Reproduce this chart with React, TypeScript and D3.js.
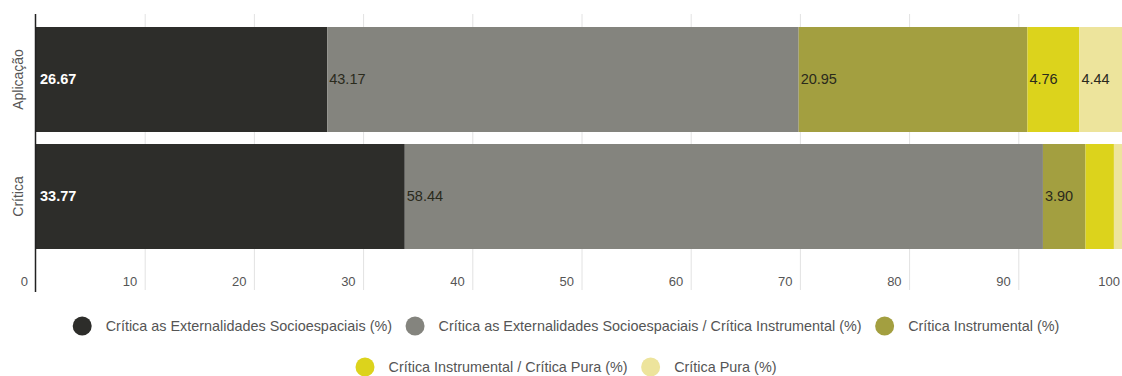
import React, { useEffect, useRef } from "react";
import * as d3 from "d3";

const categories = ["Aplicação", "Crítica"];
const seriesNames = [
  "Crítica as Externalidades Socioespaciais (%)",
  "Crítica as Externalidades Socioespaciais / Crítica Instrumental (%)",
  "Crítica Instrumental (%)",
  "Crítica Instrumental / Crítica Pura (%)",
  "Crítica Pura (%)",
];
const aplicacaoValues = [26.67, 43.17, 20.95, 4.76, 4.44];
const criticaValues = [33.77, 58.44, 3.9, 2.6, 1.29];
const xTicks = [0, 10, 20, 30, 40, 50, 60, 70, 80, 90, 100];
const colors = ["#2d2d2a", "#84847e", "#a39f40", "#dcd31c", "#ede49c"];
const legendRows = [[0, 1, 2], [3, 4]];

export default function App() {
  const ref = useRef<SVGSVGElement>(null);
  useEffect(() => {
    const svg = d3.select(ref.current);
    svg.selectAll("*").remove();
    const x = d3.scaleLinear().domain([0, 100]).range([36, 1128]);
    const y = d3.scaleBand().domain(categories).range([27, 249]).paddingInner(0.1026).paddingOuter(0);
    const font = "'Liberation Sans', Arial, sans-serif";

    // gridlines
    svg.append("g").selectAll("line").data(xTicks.slice(1)).join("line")
      .attr("x1", d => x(d)).attr("x2", d => x(d))
      .attr("y1", 14).attr("y2", 290)
      .attr("stroke", "#e2e2e2").attr("stroke-width", 1);

    const rows = [aplicacaoValues, criticaValues];
    rows.forEach((vals, ri) => {
      const cat = categories[ri];
      let acc = 0;
      const g = svg.append("g");
      vals.forEach((v, si) => {
        const x0 = x(acc), x1 = x(acc + v);
        acc += v;
        g.append("rect").attr("x", x0).attr("width", x1 - x0)
          .attr("y", y(cat)!).attr("height", y.bandwidth()).attr("fill", colors[si]);
        if (v >= 3.5) {
          g.append("text").attr("x", x0 + (si === 0 ? 4 : 2)).attr("y", y(cat)! + y.bandwidth() / 2 - 1)
            .attr("dy", "0.35em").attr("font-family", font).attr("font-size", 14.5)
            .attr("font-weight", si === 0 ? "bold" : "normal")
            .attr("fill", si === 0 ? "#ffffff" : "#2a2a1c")
            .text(v.toFixed(2));
        }
      });
    });

    // axis line
    svg.append("line").attr("x1", 35.5).attr("x2", 35.5).attr("y1", 14).attr("y2", 292)
      .attr("stroke", "#222").attr("stroke-width", 1.5);

    // x tick labels
    svg.append("g").selectAll("text").data(xTicks).join("text")
      .attr("x", d => x(d) - 8).attr("y", 281).attr("dy", "0.35em")
      .attr("text-anchor", "end").attr("font-family", font).attr("font-size", 13)
      .attr("fill", "#555").text(d => String(d));

    // y labels
    categories.forEach(c => {
      const cy = y(c)! + y.bandwidth() / 2;
      svg.append("text").attr("transform", `translate(18,${cy}) rotate(-90)`)
        .attr("text-anchor", "middle").attr("dy", "0.35em")
        .attr("font-family", font).attr("font-size", 14).attr("fill", "#555").text(c);
    });

    // legend
    const legendY = [326, 367];
    const cx = 566;
    legendRows.forEach((row, ri) => {
      const g = svg.append("g");
      let pos = 0;
      row.forEach((i, k) => {
        const t = g.append("text").attr("font-family", font).attr("font-size", 14.4)
          .attr("fill", "#555").attr("dy", "0.35em").attr("y", legendY[ri]).text(seriesNames[i]);
        const w = (t.node() as SVGTextElement).getComputedTextLength();
        g.append("circle").attr("r", 9.5).attr("cy", legendY[ri]).attr("fill", colors[i]).attr("cx", pos + 9.5);
        t.attr("x", pos + 33);
        pos += 33 + w + (k < row.length - 1 ? 13.5 : 0);
      });
      g.attr("transform", `translate(${cx - pos / 2},0)`);
    });
  }, []);
  return (
    <svg ref={ref} width={1122} height={376} style={{ position: "absolute", left: 0, top: 0, background: "#fff" }} />
  );
}
